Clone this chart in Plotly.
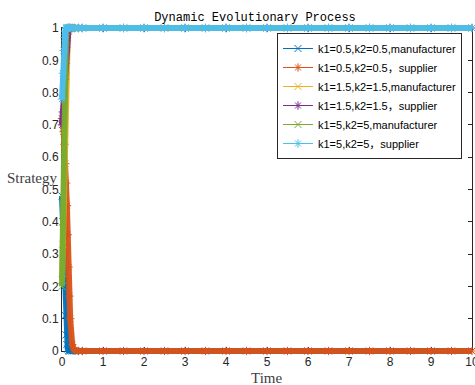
import plotly.graph_objects as go

# Time samples (dense near the start where the strategies move fast)
t = [0, 0.02, 0.04, 0.06, 0.08, 0.10, 0.12, 0.14, 0.16, 0.18, 0.20, 0.25, 0.3, 0.4,
     0.5, 1.0, 1.5, 2.0, 2.5, 3.0, 3.5, 4.0, 4.5, 5.0, 5.5, 6.0, 6.5, 7.0, 7.5, 8.0,
     8.5, 9.0, 9.5, 10.0]

manu_05 = [0.48, 0.40, 0.30, 0.20, 0.11, 0.05, 0.02, 0.006, 0.002, 0, 0, 0, 0, 0,
           0, 0, 0, 0, 0, 0, 0, 0, 0, 0, 0, 0, 0, 0, 0, 0, 0, 0, 0, 0]
supp_05 = [0.72, 0.71, 0.68, 0.64, 0.58, 0.52, 0.45, 0.36, 0.26, 0.17, 0.10, 0.02, 0.003, 0,
           0, 0, 0, 0, 0, 0, 0, 0, 0, 0, 0, 0, 0, 0, 0, 0, 0, 0, 0, 0]
manu_15 = [0.22, 0.33, 0.47, 0.62, 0.76, 0.87, 0.94, 0.97, 0.99, 1, 1, 1, 1, 1,
           1, 1, 1, 1, 1, 1, 1, 1, 1, 1, 1, 1, 1, 1, 1, 1, 1, 1, 1, 1]
supp_15 = [0.70, 0.74, 0.79, 0.84, 0.89, 0.94, 0.97, 0.99, 1, 1, 1, 1, 1, 1,
           1, 1, 1, 1, 1, 1, 1, 1, 1, 1, 1, 1, 1, 1, 1, 1, 1, 1, 1, 1]
manu_5 = [0.20, 0.40, 0.68, 0.88, 0.96, 0.99, 1, 1, 1, 1, 1, 1, 1, 1,
          1, 1, 1, 1, 1, 1, 1, 1, 1, 1, 1, 1, 1, 1, 1, 1, 1, 1, 1, 1]
supp_5 = [0.78, 0.86, 0.93, 0.97, 0.99, 1, 1, 1, 1, 1, 1, 1, 1, 1,
          1, 1, 1, 1, 1, 1, 1, 1, 1, 1, 1, 1, 1, 1, 1, 1, 1, 1, 1, 1]

names = ["k1=0.5,k2=0.5,manufacturer", "k1=0.5,k2=0.5，supplier",
         "k1=1.5,k2=1.5,manufacturer", "k1=1.5,k2=1.5，supplier",
         "k1=5,k2=5,manufacturer", "k1=5,k2=5，supplier"]
series = [manu_05, supp_05, manu_15, supp_15, manu_5, supp_5]
colors = ["#0072BD", "#D95319", "#EDB120", "#7E2F8E", "#77AC30", "#4DBEEE"]
symbols = ["x-thin-open", "asterisk-open"] * 3

x_ticks = [0, 1, 2, 3, 4, 5, 6, 7, 8, 9, 10]
y_ticks = [0, 0.1, 0.2, 0.3, 0.4, 0.5, 0.6, 0.7, 0.8, 0.9, 1]

W, H = 475, 385
# axes box in pixels
box_l, box_r, box_t, box_b = 62, 472, 28, 351
# drawing area for curves extends a little past the box so marks are not clipped
draw_l, draw_r, draw_t, draw_b = 54, 475, 20, 359

fig = go.Figure()

for name, ys, col, sym in zip(names, series, colors, symbols):
    fig.add_trace(go.Scatter(x=t, y=ys, mode="lines", xaxis="x2", yaxis="y2",
                             line=dict(color=col, width=6), opacity=0.95,
                             showlegend=False, hoverinfo="skip"))
    fig.add_trace(go.Scatter(x=t, y=ys, mode="lines+markers", name=name,
                             xaxis="x2", yaxis="y2",
                             line=dict(color=col, width=1),
                             marker=dict(symbol=sym, size=7, color=col,
                                         line=dict(color=col, width=1)),
                             cliponaxis=False))

# invisible trace so the framed axes get drawn
fig.add_trace(go.Scatter(x=[0], y=[0], mode="markers", marker=dict(opacity=0),
                         showlegend=False, hoverinfo="skip"))

dw = draw_r - draw_l
dh = draw_b - draw_t
xpx = (box_r - box_l) / 10.0
ypx = (box_b - box_t) / 1.0

axis_font = dict(family="Liberation Sans, Arial, sans-serif", size=12, color="#262626")

fig.update_layout(
    width=W, height=H,
    margin=dict(l=draw_l, r=W - draw_r, t=draw_t, b=H - draw_b, pad=0,
                autoexpand=False),
    paper_bgcolor="white", plot_bgcolor="rgba(0,0,0,0)",
    xaxis=dict(domain=[(box_l - draw_l) / dw, (box_r - draw_l) / dw],
               range=[0, 10], tickvals=x_ticks, ticks="inside", ticklen=4,
               tickcolor="#262626", showline=True, linecolor="#262626",
               linewidth=1, mirror="ticks", showgrid=False, zeroline=False,
               tickfont=axis_font, ticklabeloverflow="allow", automargin=False,
               anchor="y"),
    yaxis=dict(domain=[(draw_b - box_b) / dh, (draw_b - box_t) / dh],
               range=[0, 1], tickvals=y_ticks, ticks="inside", ticklen=4,
               tickcolor="#262626", showline=True, linecolor="#262626",
               linewidth=1, mirror="ticks", showgrid=False, zeroline=False,
               tickfont=axis_font, ticklabeloverflow="allow", automargin=False,
               anchor="x"),
    xaxis2=dict(domain=[0, 1], anchor="y2",
                range=[-(box_l - draw_l) / xpx, 10 + (draw_r - box_r) / xpx],
                visible=False),
    yaxis2=dict(domain=[0, 1], anchor="x2",
                range=[-(draw_b - box_b) / ypx, 1 + (box_t - draw_t) / ypx],
                visible=False),
    legend=dict(x=(462 - draw_l) / dw, xanchor="right",
                y=(draw_b - 33) / dh, yanchor="top",
                bgcolor="white", bordercolor="#262626", borderwidth=1,
                font=dict(family="Liberation Sans, Arial, Noto Sans CJK SC, sans-serif",
                          size=11, color="#000000"),
                tracegroupgap=0),
    title=dict(text="Dynamic Evolutionary Process", x=255 / W, xanchor="center",
               y=1 - 17 / H, yanchor="middle",
               font=dict(family="Liberation Mono, monospace", size=12, color="#000000")),
    showlegend=True,
)

label_font = dict(family="Liberation Serif, Times New Roman, serif", size=15, color="#404040")
fig.add_annotation(text="Time", xref="paper", yref="paper",
                   x=(266 - draw_l) / dw, y=-(378 - draw_b) / dh,
                   xanchor="center", yanchor="middle", showarrow=False, font=label_font)
fig.add_annotation(text="Strategy", xref="paper", yref="paper",
                   x=-(draw_l - 5) / dw, y=(draw_b - 178) / dh,
                   xanchor="left", yanchor="middle", showarrow=False, font=label_font)

fig.write_html("out.html")
